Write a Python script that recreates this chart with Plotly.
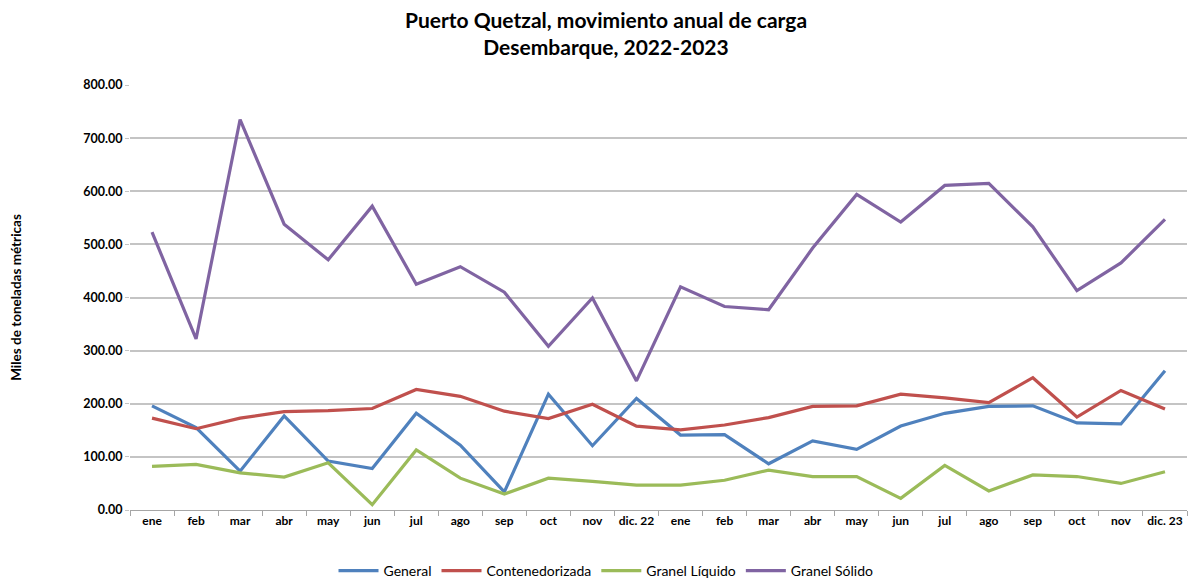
import plotly.graph_objects as go

# ── Data ──────────────────────────────────────────────────────────────────────
months = ["ene", "feb", "mar", "abr", "may", "jun", "jul", "ago", "sep", "oct", "nov", "dic. 22",
          "ene", "feb", "mar", "abr", "may", "jun", "jul", "ago", "sep", "oct", "nov", "dic. 23"]

general = [196, 155, 73, 177, 92, 78, 182, 122, 34, 218, 121, 210,
           141, 142, 87, 130, 114, 158, 182, 195, 196, 164, 162, 262]
contenedorizada = [173, 153, 173, 185, 187, 191, 227, 214, 186, 172, 199, 158,
                   151, 160, 174, 195, 196, 218, 211, 202, 249, 175, 225, 190]
granel_liquido = [82, 86, 70, 62, 89, 10, 113, 60, 30, 60, 54, 47,
                  47, 56, 75, 63, 63, 22, 84, 36, 66, 63, 50, 72]
granel_solido = [523, 322, 735, 538, 471, 572, 425, 458, 410, 308, 399, 243,
                 420, 383, 377, 493, 594, 542, 611, 615, 533, 413, 465, 547]

series = [
    ("General", general, "#4F81BD"),
    ("Contenedorizada", contenedorizada, "#C0504D"),
    ("Granel Líquido", granel_liquido, "#9BBB59"),
    ("Granel Sólido", granel_solido, "#8064A2"),
]

x = list(range(len(months)))

fig = go.Figure()
for name, vals, color in series:
    fig.add_trace(go.Scatter(
        x=x, y=vals, mode="lines", name=name,
        line=dict(color=color, width=3.2),
    ))

FONT = "Lato, 'Open Sans', Arial, sans-serif"
W, H = 1196, 579  # page body adds ~8px margin

fig.update_layout(
    width=W, height=H,
    paper_bgcolor="white", plot_bgcolor="white",
    font=dict(family=FONT, color="black"),
    title=dict(
        text="<b>Puerto Quetzal, movimiento anual de carga<br>Desembarque, 2022-2023</b>",
        x=0.5, xanchor="center", yref="container", y=1 - 20 / H, yanchor="middle",
        font=dict(size=21, family=FONT),
    ),
    margin=dict(l=122, r=17, t=77, b=77, autoexpand=False),
    showlegend=True,
    legend=dict(
        orientation="h", xref="container", x=0.5, xanchor="center",
        yref="container", y=-0.012, yanchor="bottom",
        font=dict(size=14, family=FONT),
        itemwidth=40, tracegroupgap=0,
    ),
    xaxis=dict(
        range=[-0.5, len(months) - 0.5],
        tickvals=x, ticktext=[f"<b>{m}</b>" for m in months],
        tickfont=dict(size=12), ticks="", showgrid=False,
        showline=True, linecolor="#a6a6a6", linewidth=1,
        minor=dict(tickvals=[i - 0.5 for i in range(len(months) + 1)],
                   ticks="outside", ticklen=5, tickcolor="#a6a6a6"),
        zeroline=False,
    ),
    yaxis=dict(
        range=[0, 800], dtick=100, tickformat=".2f",
        tickfont=dict(size=12.5), tickprefix="<b>", ticksuffix="</b>",
        showgrid=True, gridcolor="#c4c4c4", gridwidth=2,
        ticks="outside", ticklen=4, tickcolor="#c4c4c4",
        showline=False, zeroline=False,
        title=dict(text="<b>Miles de toneladas métricas</b>", font=dict(size=13.5), standoff=59),
    ),
)

fig.write_html("out.html")
